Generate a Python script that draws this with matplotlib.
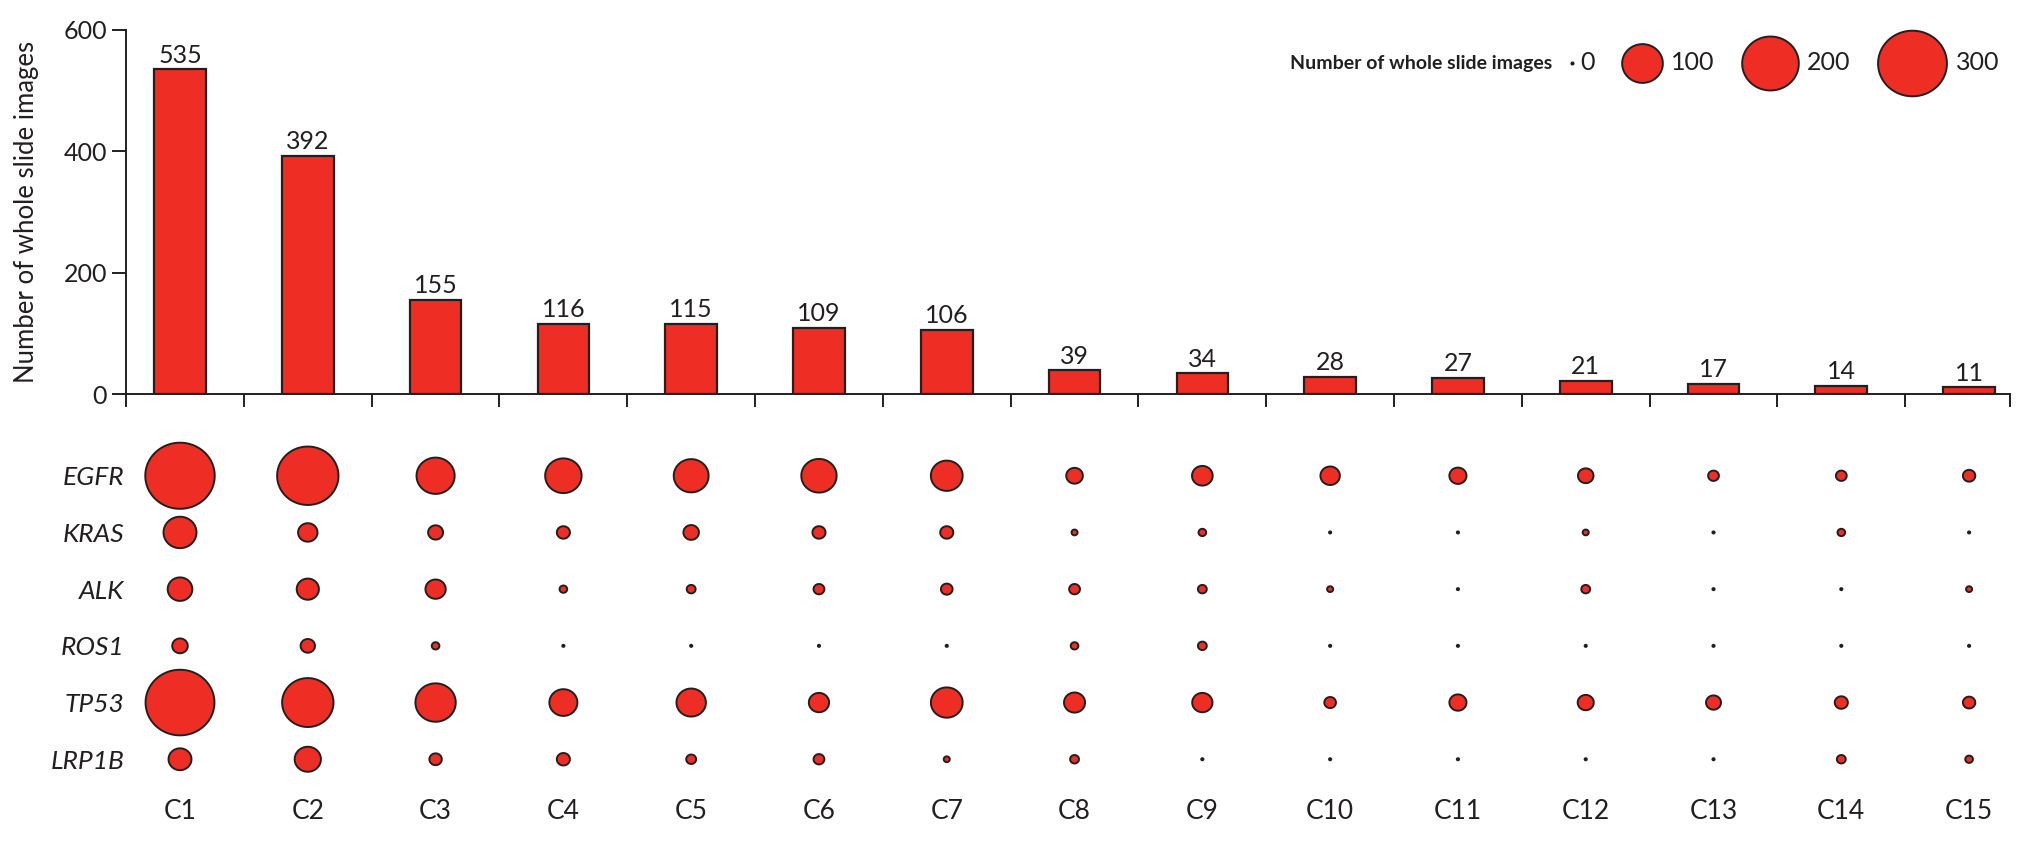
import numpy as np
import matplotlib
matplotlib.use('Agg')
import matplotlib.pyplot as plt
from matplotlib.lines import Line2D
from matplotlib.offsetbox import AnchoredOffsetbox, DrawingArea, HPacker, TextArea

plt.rcParams['font.family'] = ['Lato', 'DejaVu Sans']

# data
clusters = ['C1', 'C2', 'C3', 'C4', 'C5', 'C6', 'C7', 'C8', 'C9', 'C10', 'C11', 'C12', 'C13', 'C14', 'C15']
wsi_counts = [535, 392, 155, 116, 115, 109, 106, 39, 34, 28, 27, 21, 17, 14, 11]

genes = ['EGFR', 'KRAS', 'ALK', 'ROS1', 'TP53', 'LRP1B']
egfr = [305, 236, 87, 79, 72, 74, 59, 14, 23, 20, 15, 12, 5, 5, 7]
kras = [64, 20, 11, 8, 12, 8, 8, 1, 2, 0, 0, 1, 0, 2, 0]
alk = [34, 27, 22, 2, 3, 5, 6, 5, 3, 1, 0, 3, 0, 0, 1]
ros1 = [12, 10, 2, 0, 0, 0, 0, 2, 3, 0, 0, 0, 0, 0, 0]
tp53 = [300, 163, 98, 45, 50, 22, 59, 24, 22, 6, 15, 13, 11, 8, 7]
lrp1b = [29, 39, 7, 8, 4, 5, 1, 3, 0, 0, 0, 0, 0, 3, 2]
gene_counts = [egfr, kras, alk, ros1, tp53, lrp1b]

legend_values = [0, 100, 200, 300]

RED = '#EE2E24'
DARK = '#231F20'
EDGE_LW = 1.4

# slightly wide ellipse, as in the original artwork
t = np.linspace(0, 2 * np.pi, 120)
ELLIPSE = np.column_stack([np.cos(t), np.sin(t) / 1.05])


def bubble_size(n):
    # marker area (pt^2); width grows with sqrt of the count
    return (0.72 * (2.2 + 3.85 * np.sqrt(np.asarray(n, dtype=float)))) ** 2


fig = plt.figure(figsize=(20.26, 8.5), dpi=100)

# bar chart
ax_bar = fig.add_axes([0.06204, 0.53647, 0.93006, 0.42824])
x = np.arange(len(clusters))
bars = ax_bar.bar(x, wsi_counts, width=0.404, color=RED, edgecolor=DARK, linewidth=1.6, zorder=2)
ax_bar.bar_label(bars, padding=2, fontsize=18, color=DARK)
ax_bar.set_xlim(-0.425, 14.32)
ax_bar.set_ylim(0, 600)
ax_bar.set_yticks([0, 200, 400, 600])
ax_bar.set_xticks([-0.425] + list(x[:-1] + 0.5) + [14.32])
ax_bar.tick_params(axis='x', length=9.5, width=1.4, color=DARK, labelbottom=False)
ax_bar.tick_params(axis='y', length=10, width=1.4, pad=3.5, labelsize=18, color=DARK, labelcolor=DARK)
for side in ['top', 'right']:
    ax_bar.spines[side].set_visible(False)
for side in ['left', 'bottom']:
    ax_bar.spines[side].set_linewidth(1.4)
    ax_bar.spines[side].set_color(DARK)
ax_bar.set_ylabel('Number of whole slide images', fontsize=18.5, color=DARK)
ax_bar.yaxis.set_label_coords(-0.046, 0.5)

# bubble matrix
ax_dot = fig.add_axes([0.06204, 0.07341, 0.93006, 0.40024])
for i, vals in enumerate(gene_counts):
    ax_dot.scatter(x, np.full(len(x), i), s=bubble_size(vals), marker=ELLIPSE, c=RED,
                   edgecolors=DARK, linewidths=EDGE_LW, clip_on=False, zorder=3)
ax_dot.set_xlim(-0.425, 14.32)
ax_dot.set_ylim(5.5, -0.5)
ax_dot.set_yticks(range(len(genes)), genes, fontstyle='italic', fontsize=19, color=DARK)
ax_dot.set_xticks(x, clusters, fontsize=19, color=DARK)
ax_dot.tick_params(axis='both', length=0)
ax_dot.tick_params(axis='y', pad=1)
ax_dot.tick_params(axis='x', pad=8.5)
for side in ax_dot.spines:
    ax_dot.spines[side].set_visible(False)

# size key
items = []
for v in legend_values:
    ms = float(np.sqrt(bubble_size(v)))
    w = ms + EDGE_LW
    h = w / 1.05
    da = DrawingArea(w, h, 0, 0)
    da.add_artist(Line2D([w / 2], [h / 2], marker=ELLIPSE, markersize=ms, markerfacecolor=RED,
                         markeredgecolor=DARK, markeredgewidth=EDGE_LW, linestyle='none'))
    lab = TextArea(str(v), textprops=dict(fontsize=18, color=DARK))
    items.append(HPacker(children=[da, lab], sep=4 if v == 0 else 5.5, align='center', pad=0))
entries = HPacker(children=items, sep=19, align='center', pad=0)
title = TextArea('Number of whole slide images', textprops=dict(fontsize=14, fontweight='bold', color=DARK))
key = HPacker(children=[title, entries], sep=13, align='center', pad=0)
anchored = AnchoredOffsetbox(loc='center right', child=key, pad=0, borderpad=0, frameon=False,
                             bbox_to_anchor=(1999 / 2026, 1 - 63 / 850), bbox_transform=fig.transFigure)
fig.add_artist(anchored)

fig.savefig('out.png', dpi=100)
